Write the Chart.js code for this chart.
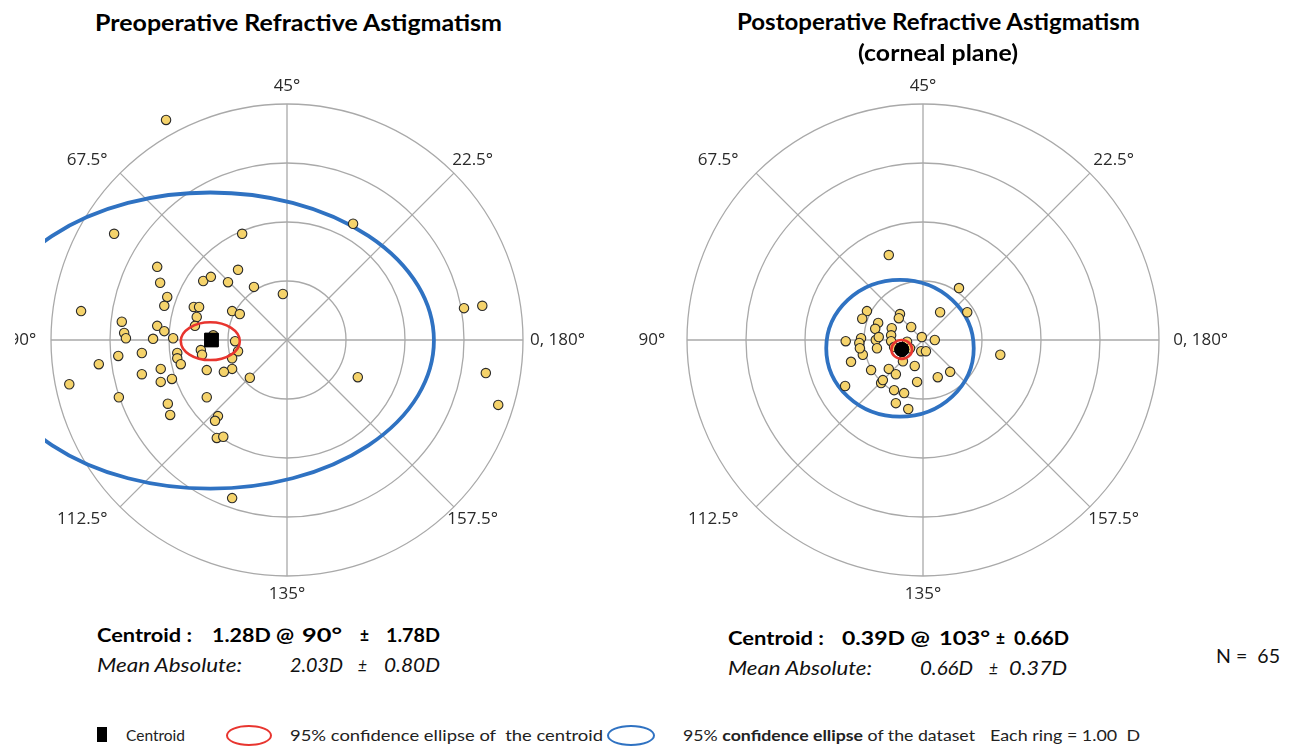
<!DOCTYPE html>
<html><head><meta charset="utf-8">
<script src="https://cdn.jsdelivr.net/npm/chart.js@4.4.1/dist/chart.umd.min.js"></script>
<style>
html,body{margin:0;padding:0;background:#fff;width:1291px;height:746px;overflow:hidden;}
.t{position:absolute;white-space:nowrap;color:#111;transform-origin:0 50%;line-height:1;transform:translateY(-50%);}
.tt{font:700 22px Lato,sans-serif;color:#000;}
.st{font:700 19px Lato,sans-serif;color:#000;}
.it{font:italic 400 19px Lato,sans-serif;color:#111;}
.lg{font:400 15px Lato,sans-serif;color:#222;}
.nn{font:400 19px Lato,sans-serif;color:#111;}
#w1{position:absolute;left:15px;top:60px;width:615px;height:550px;}
#w2{position:absolute;left:630px;top:60px;width:661px;height:550px;}
.shape{position:absolute;box-sizing:border-box;}
</style></head>
<body>
<div id="w1"><canvas id="c1"></canvas></div>
<div id="w2"><canvas id="c2"></canvas></div>

<div class="t tt" style="left:95px;top:22px" data-w="407">Preoperative Refractive Astigmatism</div>
<div class="t tt" style="left:737px;top:21px" data-w="403">Postoperative Refractive Astigmatism</div>
<div class="t tt" style="left:858px;top:52px" data-w="160">(corneal plane)</div>

<div class="t st" style="left:97px;top:634px" data-w="95">Centroid :</div>
<div class="t st" style="left:212px;top:634px" data-w="82">1.28D @</div>
<div class="t st" style="left:302px;top:634px" data-w="40">90°</div>
<div class="t st" style="left:360px;top:634px" data-w="9">±</div>
<div class="t st" style="left:386px;top:634px" data-w="54">1.78D</div>
<div class="t it" style="left:97px;top:664px" data-w="145">Mean Absolute:</div>
<div class="t it" style="left:290px;top:664px" data-w="53">2.03D</div>
<div class="t it" style="left:358px;top:664px" data-w="9">±</div>
<div class="t it" style="left:384px;top:664px" data-w="56">0.80D</div>

<div class="t st" style="left:728px;top:637px" data-w="96">Centroid :</div>
<div class="t st" style="left:842px;top:637px" data-w="88">0.39D @</div>
<div class="t st" style="left:939px;top:637px" data-w="51">103°</div>
<div class="t st" style="left:996px;top:637px" data-w="9">±</div>
<div class="t st" style="left:1014px;top:637px" data-w="55">0.66D</div>
<div class="t it" style="left:728px;top:667px" data-w="144">Mean Absolute:</div>
<div class="t it" style="left:920px;top:667px" data-w="53">0.66D</div>
<div class="t it" style="left:989px;top:667px" data-w="9">±</div>
<div class="t it" style="left:1009px;top:667px" data-w="58">0.37D</div>
<div class="t nn" style="left:1216px;top:655px" data-w="64">N =&nbsp; 65</div>

<div class="shape" style="left:97px;top:727px;width:10px;height:15px;background:#000"></div>
<div class="t lg" style="left:126px;top:735px" data-w="59">Centroid</div>
<div class="shape" style="left:226px;top:725px;width:46px;height:21px;border:2.5px solid #e8352f;border-radius:50%"></div>
<div class="t lg" style="left:290px;top:735px" data-w="313">95% confidence ellipse of&nbsp; the centroid</div>
<div class="shape" style="left:607px;top:725px;width:48px;height:21px;border:2.5px solid #2f72c2;border-radius:50%"></div>
<div class="t lg" style="left:683px;top:735px" data-w="292">95% <b>confidence ellipse</b> of the dataset</div>
<div class="t lg" style="left:990px;top:735px" data-w="150">Each ring = 1.00&nbsp; D</div>

<script>
// ---------- data (dioptres, double-angle plot coordinates) ----------
const RINGS = [1, 2, 3, 4];
const AXIS_ANGLES = [0, 22.5, 45, 67.5, 90, 112.5, 135, 157.5];
const AXIS_LABELS = ['0, 180°', '22.5°', '45°', '67.5°', '90°', '112.5°', '135°', '157.5°'];

const PRE_X = [-2.05,-2.93,-0.76,-2.20,-2.15,-2.03,-1.42,-1.29,-1.00,-0.83,-0.56,-0.07,-2.08,-3.49,-1.58,-1.49,-1.53,-1.56,-0.93,-0.80,-2.80,-2.76,-2.73,-2.20,-2.08,-2.27,-1.93,-1.25,-0.88,-0.83,-0.93,-0.93,-1.07,-0.63,-1.46,-1.44,-1.86,-1.86,-1.80,-2.46,-2.86,-3.19,-2.46,-2.14,-2.14,-1.95,-1.36,-3.69,-2.85,-1.36,-2.02,-1.98,-1.17,-1.22,-1.19,-1.08,-0.93,1.12,3.00,3.31,1.20,3.37,3.58];
const PRE_Y = [3.73,1.80,1.80,1.24,0.97,0.73,1.00,1.07,0.98,1.19,0.90,0.78,0.58,0.49,0.56,0.56,0.39,0.24,0.49,0.44,0.31,0.12,0.03,0.24,0.15,0.02,0.03,0.08,-0.02,-0.19,-0.31,-0.49,-0.54,-0.64,-0.17,-0.25,-0.22,-0.31,-0.41,-0.22,-0.27,-0.41,-0.58,-0.49,-0.71,-0.66,-0.51,-0.75,-0.97,-0.97,-1.08,-1.27,-1.29,-1.37,-1.66,-1.64,-2.68,1.97,0.54,0.58,-0.63,-0.56,-1.10];
const PRE_CENTROID = [-1.28, 0];
const PRE_CENTROID_ELLIPSE = [-1.30, -0.02, 0.50, 0.32];   // cx, cy, rx, ry
const PRE_DATA_ELLIPSE = [-1.30, -0.01, 3.79, 2.51];

const POST_X = [-0.58,0.61,0.75,0.29,-0.95,-1.03,-0.76,-0.81,-0.39,-0.41,-0.20,-0.53,-0.54,-0.02,0.20,-1.31,-1.05,-1.08,-0.80,-0.75,-0.78,-0.54,-0.27,-0.22,-0.03,0.05,-1.02,-1.22,-0.34,-0.14,-0.88,-0.58,-0.46,-0.71,-0.68,-0.10,0.25,0.46,-1.32,-0.49,-0.32,-0.46,-0.25,1.31,-1.07,-0.49];
const POST_Y = [1.44,0.88,0.47,0.47,0.49,0.36,0.29,0.19,0.44,0.37,0.22,0.20,0.08,0.05,0.00,-0.02,0.03,-0.05,0.00,0.05,-0.14,-0.02,-0.03,-0.14,-0.19,-0.19,-0.25,-0.37,-0.36,-0.44,-0.51,-0.49,-0.58,-0.73,-0.68,-0.71,-0.63,-0.54,-0.78,-0.85,-0.90,-1.07,-1.17,-0.25,-0.14,-0.12];
const POST_CENTROID = [-0.36, -0.16];
const POST_CENTROID_ELLIPSE = [-0.36, -0.16, 0.175, 0.16];
const POST_DATA_ELLIPSE = [-0.39, -0.14, 1.25, 1.16];

// ---------- drawing ----------
function makeChart(id, cfg) {
  const plugin = {
    id: 'polarGrid',
    beforeDatasetsDraw(chart) {
      const ctx = chart.ctx, sx = chart.scales.x, sy = chart.scales.y;
      const cx = sx.getPixelForValue(0), cy = sy.getPixelForValue(0);
      const k = sx.getPixelForValue(1) - cx;
      ctx.save();
      ctx.strokeStyle = '#a9a9a9';
      ctx.lineWidth = 1.3;
      RINGS.forEach(r => { ctx.beginPath(); ctx.arc(cx, cy, r * k, 0, Math.PI * 2); ctx.stroke(); });
      const R = RINGS[RINGS.length - 1] * k;
      AXIS_ANGLES.forEach(a => {
        const t = 2 * a * Math.PI / 180;
        ctx.beginPath(); ctx.moveTo(cx, cy);
        ctx.lineTo(cx + R * Math.cos(t), cy - R * Math.sin(t)); ctx.stroke();
      });
      // axis labels
      ctx.fillStyle = '#2a2a2a';
      ctx.font = '17px "Open Sans"';
      ctx.textBaseline = 'middle';
      const padX = cfg.labelPadX || 0;
      AXIS_ANGLES.forEach((a, i) => {
        const t = 2 * a * Math.PI / 180;
        const c = Math.cos(t), s = Math.sin(t);
        let rx, ry = 4.3, align;
        if (Math.abs(c) < 0.1) { rx = 4.3; align = 'center'; }
        else if (Math.abs(s) < 0.1) { rx = (c > 0 ? 4.12 : 4.25) + padX; align = c > 0 ? 'left' : 'right'; }
        else if (c > 0) { rx = 4.45 + padX; align = 'center'; }
        else { rx = 4.3 + padX; align = 'right'; }
        ctx.textAlign = align;
        ctx.fillText(AXIS_LABELS[i], cx + rx * k * c, cy - ry * k * s);
      });
      // dataset ellipse
      const e = cfg.dataEllipse;
      ctx.save();
      ctx.beginPath();
      const clipX = cfg.clipLeft !== undefined ? sx.getPixelForValue(cfg.clipLeft) : 0;
      ctx.rect(clipX, 0, chart.width - clipX, chart.height);
      ctx.clip();
      ctx.beginPath();
      ctx.ellipse(sx.getPixelForValue(e[0]), sy.getPixelForValue(e[1]), e[2] * k, e[3] * k, 0, 0, Math.PI * 2);
      ctx.strokeStyle = '#2f72c2';
      ctx.lineWidth = 3.8;
      ctx.stroke();
      ctx.restore();
      ctx.restore();
    },
    afterDatasetsDraw(chart) {
      const ctx = chart.ctx, sx = chart.scales.x, sy = chart.scales.y;
      const k = sx.getPixelForValue(1) - sx.getPixelForValue(0);
      const e = cfg.centroidEllipse;
      ctx.save();
      ctx.beginPath();
      ctx.ellipse(sx.getPixelForValue(e[0]), sy.getPixelForValue(e[1]), e[2] * k, e[3] * k, 0, 0, Math.PI * 2);
      ctx.strokeStyle = '#e8352f';
      ctx.lineWidth = 2.6;
      ctx.stroke();
      ctx.restore();
      // centroid on top
      const m = chart.getDatasetMeta(0);
      m.data.forEach(el => el.draw(ctx, chart.chartArea));
    }
  };
  return new Chart(document.getElementById(id), {
    type: 'scatter',
    data: { datasets: [
      { label: 'Centroid', data: [{ x: cfg.centroid[0], y: cfg.centroid[1] }],
        pointStyle: cfg.centroidStyle, pointRadius: cfg.centroidRadius,
        backgroundColor: '#000', borderColor: '#000', borderWidth: 1 },
      { label: 'Eyes', data: cfg.xs.map((v, i) => ({ x: v, y: cfg.ys[i] })),
        pointRadius: 4.7, backgroundColor: '#f5d36b', borderColor: '#2a2a2a', borderWidth: 1.1 }
    ] },
    options: {
      responsive: true, maintainAspectRatio: false, animation: false, events: [],
      layout: { padding: 0, autoPadding: false },
      plugins: { legend: { display: false }, tooltip: { enabled: false } },
      scales: {
        x: { type: 'linear', min: cfg.xmin, max: cfg.xmax, display: false },
        y: { type: 'linear', min: cfg.ymin, max: cfg.ymax, display: false }
      }
    },
    plugins: [plugin]
  });
}

const PX_PER_D = 59;
makeChart('c1', {
  xs: PRE_X, ys: PRE_Y, centroid: PRE_CENTROID, centroidStyle: 'rect', centroidRadius: 9.5,
  centroidEllipse: PRE_CENTROID_ELLIPSE, dataEllipse: PRE_DATA_ELLIPSE, clipLeft: -4.1,
  xmin: (15 - 287) / PX_PER_D, xmax: (630 - 287) / PX_PER_D,
  ymin: (340 - 610) / PX_PER_D, ymax: (340 - 60) / PX_PER_D
});
makeChart('c2', {
  xs: POST_X, ys: POST_Y, centroid: POST_CENTROID, centroidStyle: 'circle', centroidRadius: 7,
  centroidEllipse: POST_CENTROID_ELLIPSE, dataEllipse: POST_DATA_ELLIPSE, labelPadX: 0.12,
  xmin: (630 - 923) / PX_PER_D, xmax: (1291 - 923) / PX_PER_D,
  ymin: (340 - 610) / PX_PER_D, ymax: (340 - 60) / PX_PER_D
});

function fitTexts() {
  document.querySelectorAll('[data-w]').forEach(el => {
    el.style.transform = 'translateY(-50%)';
    const w = el.getBoundingClientRect().width;
    const s = parseFloat(el.dataset.w) / w;
    el.style.transform = 'translateY(-50%) scaleX(' + s + ')';
  });
}
fitTexts();
if (document.fonts && document.fonts.ready) document.fonts.ready.then(fitTexts);
</script>
</body></html>
